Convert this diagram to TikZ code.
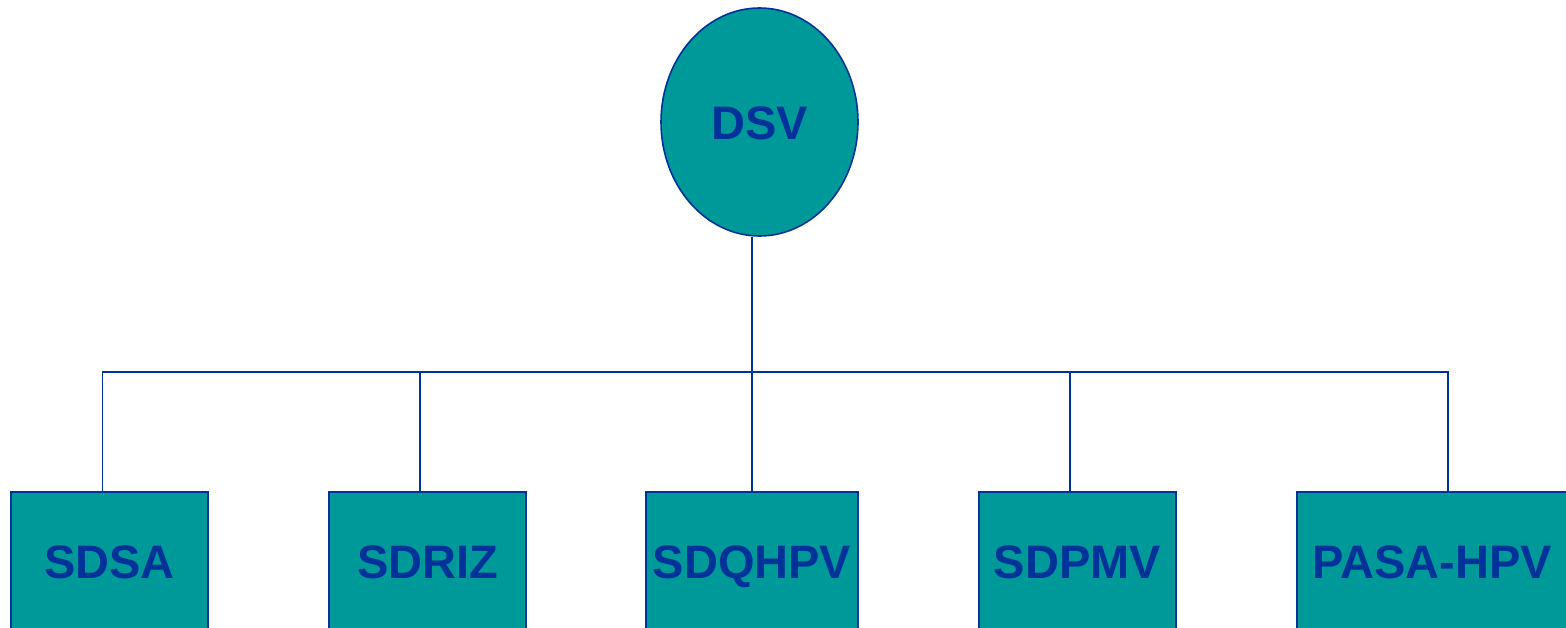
\documentclass[tikz,border=0pt]{standalone}
\usepackage{fontspec}
\setmainfont{Liberation Sans}
\usetikzlibrary{shapes.geometric}
\definecolor{tealfill}{HTML}{009999}
\definecolor{darkblue}{HTML}{003399}
\tikzset{
  unitbox/.style={rectangle, draw=darkblue, fill=tealfill, line width=1.6pt, inner sep=0pt,
    minimum height=138pt, text height=35pt, text depth=0pt,
    font=\fontsize{47}{52}\selectfont\bfseries, text=darkblue},
  rootnode/.style={ellipse, draw=darkblue, fill=tealfill, line width=1.6pt, inner sep=0pt,
    minimum width=197pt, minimum height=228pt, text height=35pt, text depth=0pt,
    font=\fontsize{47}{52}\selectfont\bfseries, text=darkblue},
  link/.style={draw=darkblue, line width=1.6pt}
}
\begin{document}
\begin{tikzpicture}[x=1pt,y=-1pt]
\useasboundingbox (0,0) rectangle (1566,627);
\node[rootnode] (dsv) at (759.5,122) {DSV};
\node[unitbox, minimum width=197pt] (b1) at (109.5,561) {SDSA};
\node[unitbox, minimum width=197pt] (b2) at (427.5,561) {SDRIZ};
\node[unitbox, minimum width=212pt] (b3) at (752,561) {SDQHPV};
\node[unitbox, minimum width=197pt] (b4) at (1077.5,561) {SDPMV};
\node[unitbox, minimum width=271pt] (b5) at (1432.5,561) {PASA-HPV};
\coordinate (bus) at (752,372);
\draw[link] ([xshift=-7pt]b1.north) |- (bus) -| ([xshift=15.5pt]b5.north);
\draw[link] ([xshift=-7.5pt]b2.north) -- ([xshift=-7.5pt]b2.north |- bus);
\draw[link] ([xshift=-7.5pt]b4.north) -- ([xshift=-7.5pt]b4.north |- bus);
\draw[link] (b3.north) -- (b3.north |- dsv.south);
\end{tikzpicture}
\end{document}
